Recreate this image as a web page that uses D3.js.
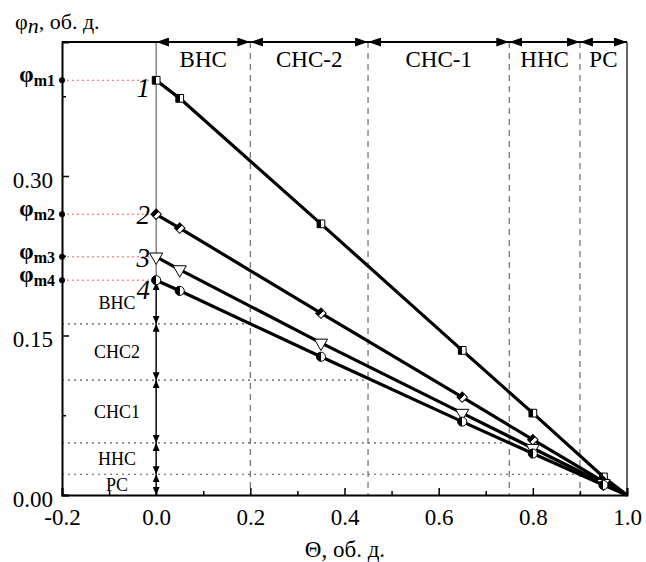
<!DOCTYPE html>
<html>
<head>
<meta charset="utf-8">
<script src="https://cdn.jsdelivr.net/npm/d3@7"></script>
<style>
    body { margin: 0; background: #fff; }
    svg text { font-family: "Liberation Serif", "Times New Roman", serif; }
</style>
</head>
<body>
<div id="chart"></div>
<script>
// data
let thetaValues = [0, 0.05, 0.35, 0.65, 0.8, 0.95, 1.0];
let series1 = [0.390, 0.373, 0.255, 0.136, 0.077, 0.017, 0];
let series2 = [0.264, 0.251, 0.171, 0.092, 0.052, 0.0125, 0];
let series3 = [0.224, 0.212, 0.143, 0.077, 0.044, 0.011, 0];
let series4 = [0.202, 0.192, 0.130, 0.069, 0.039, 0.0094, 0];
let seriesNames = ["1", "2", "3", "4"];
let seriesSymbols = ["square", "diamond", "triangleDown", "circle"];
let phiLabels = ["m1", "m2", "m3", "m4"];

// zones along theta (top) and along phi (left)
let zoneBounds = [0, 0.2, 0.45, 0.75, 0.9, 1.0];
let zoneNames = ["ВНС", "СНС-2", "СНС-1", "ННС", "РС"];
let levelBounds = [0.20, 0.161, 0.108, 0.049, 0.0195, 0];
let levelNames = ["ВНС", "СНС2", "СНС1", "ННС", "РС"];

let xTicks = [-0.2, 0, 0.2, 0.4, 0.6, 0.8, 1.0];
let xMinorTicks = [-0.1, 0.1, 0.3, 0.5, 0.7, 0.9];
let yTicks = [0, 0.15, 0.30];
let yMinorTicks = [0.075, 0.225, 0.375];

let allSeries = [series1, series2, series3, series4];

let width = 646, height = 562;
let svg = d3.select("#chart").append("svg")
    .attr("width", width)
    .attr("height", height)
    .attr("font-family", "'Liberation Serif', serif");

let x = d3.scaleLinear().domain([-0.2, 1.0]).range([62, 627]);
let y = d3.scaleLinear().domain([0, 0.426]).range([495, 42]);

let defs = svg.append("defs");

// half filled marker fill (left black, right white)
let grad = defs.append("linearGradient")
    .attr("id", "half")
    .attr("x1", "0%").attr("x2", "100%").attr("y1", "0%").attr("y2", "0%");
grad.append("stop").attr("offset", "50%").attr("stop-color", "#000");
grad.append("stop").attr("offset", "50%").attr("stop-color", "#fff");

// arrow heads
function arrowMarker(id, len, half) {
    let m = defs.append("marker")
        .attr("id", id)
        .attr("viewBox", `0 ${-half} ${len} ${2 * half}`)
        .attr("refX", len)
        .attr("refY", 0)
        .attr("markerWidth", len)
        .attr("markerHeight", 2 * half)
        .attr("markerUnits", "userSpaceOnUse")
        .attr("orient", "auto-start-reverse");
    m.append("path")
        .attr("d", `M0,${-half}L${len},0L0,${half}Z`)
        .attr("fill", "#000");
}
arrowMarker("arrowBig", 13, 4.5);
arrowMarker("arrowSmall", 8, 3.5);

// horizontal dotted level lines, each running to its zone boundary
levelBounds.slice(1, 5).forEach((v, i) => {
    svg.append("line")
        .attr("x1", x(-0.2)).attr("x2", x(zoneBounds[i + 1]))
        .attr("y1", y(v)).attr("y2", y(v))
        .attr("stroke", "#555")
        .attr("stroke-width", 1.2)
        .attr("stroke-dasharray", "2,4");
});

// dashed zone boundaries
zoneBounds.slice(1, 5).forEach(v => {
    svg.append("line")
        .attr("x1", x(v)).attr("x2", x(v))
        .attr("y1", y.range()[1]).attr("y2", y(0))
        .attr("stroke", "#777")
        .attr("stroke-width", 1.3)
        .attr("stroke-dasharray", "6,5");
});

// theta = 0 line
svg.append("line")
    .attr("x1", x(0)).attr("x2", x(0))
    .attr("y1", y.range()[1]).attr("y2", y(0))
    .attr("stroke", "#666")
    .attr("stroke-width", 1.2);

// right border
svg.append("line")
    .attr("x1", x(1)).attr("x2", x(1))
    .attr("y1", y.range()[1]).attr("y2", y(0))
    .attr("stroke", "#333")
    .attr("stroke-width", 1.5);

// top border
svg.append("line")
    .attr("x1", x(-0.2)).attr("x2", x(1))
    .attr("y1", y.range()[1]).attr("y2", y.range()[1])
    .attr("stroke", "#000")
    .attr("stroke-width", 2);

// top zone arrows and labels
zoneNames.forEach((name, i) => {
    svg.append("line")
        .attr("x1", x(zoneBounds[i])).attr("x2", x(zoneBounds[i + 1]))
        .attr("y1", y.range()[1]).attr("y2", y.range()[1])
        .attr("stroke", "#000")
        .attr("stroke-width", 2)
        .attr("marker-start", "url(#arrowBig)")
        .attr("marker-end", "url(#arrowBig)");
    svg.append("text")
        .attr("x", (x(zoneBounds[i]) + x(zoneBounds[i + 1])) / 2)
        .attr("y", 67)
        .attr("text-anchor", "middle")
        .style("font-size", "23px")
        .text(name);
});

// left vertical arrows and labels
levelNames.forEach((name, i) => {
    svg.append("line")
        .attr("x1", x(0)).attr("x2", x(0))
        .attr("y1", y(levelBounds[i])).attr("y2", y(levelBounds[i + 1]))
        .attr("stroke", "#000")
        .attr("stroke-width", 1.2)
        .attr("marker-start", "url(#arrowSmall)")
        .attr("marker-end", "url(#arrowSmall)");
    svg.append("text")
        .attr("x", 117)
        .attr("y", (y(levelBounds[i]) + y(levelBounds[i + 1])) / 2 + 6)
        .attr("text-anchor", "middle")
        .style("font-size", "18px")
        .text(name);
});

// phi_m reference lines
allSeries.forEach((s, i) => {
    svg.append("line")
        .attr("x1", x(-0.2)).attr("x2", x(0))
        .attr("y1", y(s[0])).attr("y2", y(s[0]))
        .attr("stroke", "#f06060")
        .attr("stroke-width", 1)
        .attr("stroke-dasharray", "2,3");
    svg.append("circle")
        .attr("cx", x(-0.2)).attr("cy", y(s[0]))
        .attr("r", 3)
        .attr("fill", "#000");
    let t = svg.append("text")
        .attr("x", 55)
        .attr("y", y(s[0]) + 2)
        .attr("text-anchor", "end")
        .style("font-weight", "bold");
    t.append("tspan").style("font-size", "23px").text("φ");
    t.append("tspan").style("font-size", "16px").attr("dy", 4).text(phiLabels[i]);
});

// axes
svg.append("g")
    .attr("transform", `translate(0, ${y(0)})`)
    .call(d3.axisBottom(x).tickValues(xTicks).tickSize(-7).tickPadding(14)
        .tickFormat(d => d.toFixed(1)));
svg.append("g")
    .attr("transform", `translate(0, ${y(0)})`)
    .call(d3.axisBottom(x).tickValues(xMinorTicks).tickSize(-4).tickFormat(""))
    .select(".domain").remove();

let yAxis = svg.append("g")
    .attr("transform", `translate(${x(-0.2)}, 0)`)
    .call(d3.axisLeft(y).tickValues(yTicks).tickSize(-7).tickPadding(9)
        .tickFormat(d => d.toFixed(2)));
svg.append("g")
    .attr("transform", `translate(${x(-0.2)}, 0)`)
    .call(d3.axisLeft(y).tickValues(yMinorTicks).tickSize(-4).tickFormat(""))
    .select(".domain").remove();

svg.selectAll("g").attr("font-family", "'Liberation Serif', serif");
svg.selectAll(".domain").attr("stroke", "#000").attr("stroke-width", 2);
svg.selectAll(".tick line").attr("stroke", "#000").attr("stroke-width", 1.5);
svg.selectAll(".tick text")
    .style("font-size", "23px")
    .attr("fill", "#000");
yAxis.selectAll(".tick text").attr("dy", "0.5em");

// axis titles
let yTitle = svg.append("text")
    .attr("x", 15)
    .attr("y", 29)
    .style("font-size", "22px");
yTitle.append("tspan").text("φ");
yTitle.append("tspan").attr("dy", 4).style("font-style", "italic").text("n");
yTitle.append("tspan").attr("dy", -4).text(", об. д.");

svg.append("text")
    .attr("x", 345)
    .attr("y", 557)
    .attr("text-anchor", "middle")
    .style("font-size", "23px")
    .text("Θ, об. д.");

// series lines
let line = d3.line()
    .x((d, i) => x(thetaValues[i]))
    .y(d => y(d));

let symbolTypes = {
    square: d3.symbolSquare,
    diamond: d3.symbolSquare,
    triangleDown: d3.symbolTriangle,
    circle: d3.symbolCircle
};
let symbolSizes = { square: 60, diamond: 55, triangleDown: 75, circle: 65 };
let symbolRotate = { square: 0, diamond: 45, triangleDown: 180, circle: 0 };

allSeries.forEach((s, i) => {
    svg.append("path")
        .datum(s)
        .attr("d", line)
        .attr("fill", "none")
        .attr("stroke", "#000")
        .attr("stroke-width", 3.2);

    let kind = seriesSymbols[i];
    let sym = d3.symbol().type(symbolTypes[kind]).size(symbolSizes[kind]);

    svg.selectAll(".m" + i)
        .data(s.slice(0, s.length - 1))
        .enter().append("g")
        .attr("class", "m" + i)
        .attr("transform", (d, j) => `translate(${x(thetaValues[j])}, ${y(d)})`)
        .append("path")
        .attr("d", sym)
        .attr("transform", `rotate(${symbolRotate[kind]})`)
        .attr("fill", kind === "triangleDown" ? "#fff" : "url(#half)")
        .attr("stroke", "#000")
        .attr("stroke-width", 1);

    // series number
    svg.append("text")
        .attr("x", 150)
        .attr("y", y(s[0]) + (i === 0 ? 17 : i === 3 ? 19 : 10))
        .attr("text-anchor", "end")
        .style("font-size", "27px")
        .style("font-style", "italic")
        .text(seriesNames[i]);
});
</script>
</body>
</html>
